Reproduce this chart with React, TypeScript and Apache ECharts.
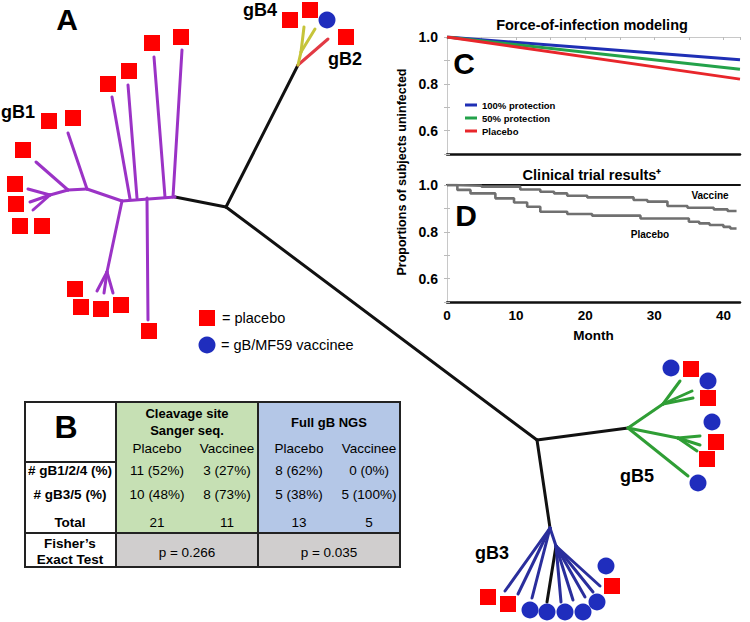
import React, { useEffect, useRef } from 'react';
import * as echarts from 'echarts';

const FONT = '"Liberation Sans", Arial, Helvetica, sans-serif';

// ---------- Panel C: force-of-infection model ----------
const monthsC = [0, 42.4];
const protection100 = [1.0, 0.903];
const protection50 = [1.0, 0.862];
const placeboModel = [1.0, 0.82];
const legendC = ['100% protection', '50% protection', 'Placebo'];
const colorsC = ['#1f2fb5', '#23a24a', '#e8262b'];

// ---------- Panel D: clinical trial (Kaplan-Meier) ----------
const vaccineMonths = [0, 1, 5, 10.6, 13.5, 15.5, 17.4, 20.3, 27, 29, 31.9, 34.8, 38.6, 40.6, 41.9];
const vaccineKM = [1.0, 0.997, 0.993, 0.981, 0.971, 0.964, 0.954, 0.947, 0.936, 0.929, 0.91, 0.903, 0.896, 0.889, 0.889];
const placeboMonths = [0, 1.5, 3.4, 7, 9.7, 11.6, 13.5, 17.4, 21, 28, 35, 36.5, 38, 40, 41, 41.9];
const placeboKM = [1.0, 0.979, 0.964, 0.943, 0.925, 0.907, 0.886, 0.876, 0.869, 0.857, 0.843, 0.836, 0.829, 0.821, 0.814, 0.814];

// ---------- Panel A: phylogenetic tree (node positions in figure units) ----------
type Edge = [number, number, number, number];
const backboneEdges: Edge[] = [
  [226, 207, 175, 197], [226, 207, 298, 65], [226, 207, 537, 440],
  [537, 440, 628, 428], [537, 440, 550, 528], [556, 546, 547, 602],
];
const gB1Edges: Edge[] = [
  [175, 197, 122, 201], [173, 197, 182, 50], [165, 197, 154, 57], [137, 198, 128, 85],
  [130, 199, 112, 97], [147, 198, 148, 320], [122, 201, 107, 272], [107, 272, 97, 291],
  [107, 272, 104, 293], [107, 272, 113, 293], [122, 201, 87, 189], [87, 189, 68, 133],
  [87, 189, 68, 190], [68, 190, 36, 162], [68, 190, 50, 195], [50, 195, 28, 189],
  [50, 195, 30, 202], [50, 195, 33, 210],
];
const gB2Edges: Edge[] = [[298, 65, 328, 39]];
const gB4Edges: Edge[] = [[298, 65, 301, 52], [301, 52, 304, 27], [301, 52, 315, 29]];
const gB5Edges: Edge[] = [
  [628, 428, 663, 404], [663, 404, 680, 381], [663, 404, 692, 391], [663, 404, 693, 398],
  [628, 428, 678, 438], [678, 438, 700, 436], [678, 438, 700, 445], [678, 438, 697, 451],
  [628, 428, 688, 476],
];
const gB3Edges: Edge[] = [
  [550, 528, 505, 591], [550, 528, 518, 594], [550, 528, 532, 598], [550, 528, 556, 546],
  [556, 546, 561, 602], [556, 546, 573, 600], [556, 546, 585, 597], [556, 546, 593, 592],
  [556, 546, 600, 586],
];
const cladeColors = ['#111111', '#9b33c6', '#e23a44', '#c6c43a', '#2f9e35', '#2a2e9c'];

const placeboTips: [number, number][] = [
  [152, 43], [181, 37], [129, 71], [108, 84], [49, 121], [73, 118], [23, 150], [15, 184],
  [16, 204], [20, 226], [42, 226], [75, 289], [81, 307], [101, 309], [121, 305], [149, 331],
  [290, 20], [310, 10], [346, 37],
  [691, 369], [708, 398], [716, 442], [707, 459],
  [488, 597], [508, 604], [612, 586],
];
const vaccineeTips: [number, number][] = [
  [327, 20],
  [671, 368], [708, 381], [712, 422], [698, 483],
  [530, 610], [547, 612], [565, 612], [583, 612], [597, 602], [606, 566],
];
const cladeLabels = ['gB1', 'gB4', 'gB2', 'gB5', 'gB3'];
const cladeLabelPos: [number, number][] = [[18, 112], [260, 10], [345, 59], [637, 476], [492, 553]];

// ---------- Panel B: table ----------
const groupHeads = ['Cleavage site\nSanger seq.', 'Full gB NGS'];
const subHeads = ['Placebo', 'Vaccinee'];
const rowLabels = ['# gB1/2/4 (%)', '# gB3/5 (%)', 'Total'];
const sangerValues = [['11 (52%)', '3 (27%)'], ['10 (48%)', '8 (73%)'], ['21', '11']];
const ngsValues = [['8 (62%)', '0 (0%)'], ['5 (38%)', '5 (100%)'], ['13', '5']];
const fisherLabel = 'Fisher\u2019s\nExact Test';
const fisherP = ['p = 0.266', 'p = 0.035'];

// layout constants
const TX = [25, 116, 258, 400];
const TY = { top: 402, head: 462, body: 533, bottom: 567 };
const rowCY = [470, 494, 522];
const subOffsets = [41, 111];

function txt(text: string, x: number, y: number, size: number, bold = true, extra: any = {}) {
  return {
    type: 'text', x, y, silent: true, z: 10,
    style: {
      text, fontSize: size, fontWeight: bold ? 'bold' : 'normal', fontFamily: FONT,
      fill: '#000', align: 'center', verticalAlign: 'middle', ...extra,
    },
  };
}

export default function App() {
  const ref = useRef<HTMLDivElement>(null);
  useEffect(() => {
    document.body.style.margin = '0';
    const chart = echarts.init(ref.current!, null, { renderer: 'svg' });

    const edgeData: number[][] = [];
    [backboneEdges, gB1Edges, gB2Edges, gB4Edges, gB5Edges, gB3Edges].forEach((list, ci) => {
      list.forEach((e) => edgeData.push([e[0], e[1], e[2], e[3], ci]));
    });

    const graphics: any[] = [];
    // panel letters
    graphics.push(txt('A', 67, 19, 30));
    graphics.push(txt('B', 66, 427, 32));
    graphics.push(txt('C', 464, 63, 30));
    graphics.push(txt('D', 466, 215, 30));
    // clade labels
    cladeLabels.forEach((l, i) => graphics.push(txt(l, cladeLabelPos[i][0], cladeLabelPos[i][1], 18)));
    // tree legend
    graphics.push({ type: 'rect', shape: { x: 199, y: 310, width: 16, height: 16 }, style: { fill: '#ff0000' }, z: 10 });
    graphics.push({ type: 'circle', shape: { cx: 207, cy: 345, r: 8.5 }, style: { fill: '#1f2dbd' }, z: 10 });
    graphics.push(txt('= placebo', 222, 318, 14.5, false, { align: 'left' }));
    graphics.push(txt('= gB/MF59 vaccinee', 221, 345, 14.5, false, { align: 'left' }));
    // chart titles and shared y axis name
    graphics.push(txt('Force-of-infection modeling', 592, 25, 14.5));
    graphics.push(txt('Clinical trial results\u207A', 592, 175, 14.5));
    graphics.push({ ...txt('Proportions of subjects uninfected', 402, 172, 12.5), rotation: Math.PI / 2 });
    graphics.push(txt('Vaccine', 710, 195, 10));
    graphics.push(txt('Placebo', 650, 234, 10));

    // table
    const colors = ['#c6e0b4', '#b4c7e7'];
    colors.forEach((c, g) => {
      graphics.push({ type: 'rect', shape: { x: TX[g + 1], y: TY.top, width: TX[g + 2] - TX[g + 1], height: TY.body - TY.top }, style: { fill: c }, z: 5 });
    });
    graphics.push({ type: 'rect', shape: { x: TX[1], y: TY.body, width: TX[3] - TX[1], height: TY.bottom - TY.body }, style: { fill: '#d0cece' }, z: 5 });
    const stroke = { stroke: '#222', lineWidth: 2 };
    graphics.push({ type: 'rect', shape: { x: TX[0], y: TY.top, width: TX[3] - TX[0], height: TY.bottom - TY.top }, style: { fill: 'none', ...stroke }, z: 6 });
    [TX[1], TX[2]].forEach((x) => graphics.push({ type: 'line', shape: { x1: x, y1: TY.top, x2: x, y2: TY.bottom }, style: stroke, z: 6 }));
    graphics.push({ type: 'line', shape: { x1: TX[0], y1: TY.head, x2: TX[1], y2: TY.head }, style: stroke, z: 6 });
    graphics.push({ type: 'line', shape: { x1: TX[0], y1: TY.body, x2: TX[3], y2: TY.body }, style: stroke, z: 6 });
    groupHeads.forEach((h, g) => {
      const cx = (TX[g + 1] + TX[g + 2]) / 2;
      graphics.push(txt(h, cx, g === 0 ? 421.5 : 422, 13, true, { lineHeight: 17 }));
      subHeads.forEach((s, k) => graphics.push(txt(s, TX[g + 1] + subOffsets[k], 448, 13.5, false)));
    });
    rowLabels.forEach((l, r) => {
      graphics.push(txt(l, 70, rowCY[r], 13.5));
      [sangerValues, ngsValues].forEach((vals, g) => {
        vals[r].forEach((v, k) => graphics.push(txt(v, TX[g + 1] + subOffsets[k], rowCY[r], 13.5, false)));
      });
    });
    graphics.push(txt(fisherLabel, 70, 551, 13.5, true, { lineHeight: 16 }));
    fisherP.forEach((p, g) => graphics.push(txt(p, (TX[g + 1] + TX[g + 2]) / 2, 552, 13.5, false)));

    const yLabelFmt = (v: number) => {
      const r = Math.round(v * 10);
      return r % 2 === 0 ? (r / 10).toFixed(1) : '';
    };
    const xMax = 42.4;
    const bottomAxis = (grid: number, labels: boolean) => ({
      type: 'value', gridIndex: grid, min: 0, max: xMax, interval: 10,
      axisLine: { show: true, lineStyle: { color: '#111', width: 2.5 } },
      axisTick: { show: false }, splitLine: { show: false },
      axisLabel: {
        show: labels, fontSize: 13.5, fontWeight: 'bold', fontFamily: FONT, color: '#000', margin: 6,
        showMaxLabel: false, showMinLabel: true,
      },
      ...(labels ? { name: 'Month', nameLocation: 'middle', nameGap: 26, nameTextStyle: { fontSize: 13.5, fontWeight: 'bold', fontFamily: FONT, color: '#000' } } : {}),
    });
    const topAxis = (grid: number, dark: boolean) => ({
      type: 'value', gridIndex: grid, position: 'top', min: 0, max: xMax, interval: 5,
      axisLine: { show: true, lineStyle: { color: dark ? '#111' : '#c8c8c8', width: dark ? 2 : 1 } },
      axisTick: { show: !dark, inside: true, length: 3, lineStyle: { color: '#bbb' } },
      axisLabel: { show: false }, splitLine: { show: false },
    });
    const leftAxis = (grid: number) => ({
      type: 'value', gridIndex: grid, min: 0.5, max: 1.0, interval: 0.1,
      axisLine: { show: false },
      axisTick: { show: true, inside: true, length: 3, lineStyle: { color: '#bbb' } },
      splitLine: { show: false },
      axisLabel: { formatter: yLabelFmt, fontSize: 14, fontWeight: 'bold', fontFamily: FONT, color: '#000', margin: 9, showMinLabel: true },
    });
    const rightAxis = (grid: number) => ({
      type: 'value', gridIndex: grid, position: 'right', min: 0.5, max: 1.0, interval: 0.1,
      axisLine: { show: true, lineStyle: { color: '#c8c8c8', width: 1 } },
      axisTick: { show: true, inside: true, length: 3, lineStyle: { color: '#bbb' } },
      splitLine: { show: false }, axisLabel: { show: false },
    });

    const lineSeries = (name: string, ys: number[], color: string) => ({
      name, type: 'line', xAxisIndex: 1, yAxisIndex: 1, showSymbol: false, silent: true,
      data: monthsC.map((m, i) => [m, ys[i]]),
      lineStyle: { color, width: 3 }, itemStyle: { color },
    });
    const kmSeries = (name: string, xs: number[], ys: number[]) => ({
      name, type: 'line', xAxisIndex: 3, yAxisIndex: 3, step: 'end', showSymbol: false, silent: true,
      data: xs.map((m, i) => [m, ys[i]]),
      lineStyle: { color: '#707070', width: 2.6 }, itemStyle: { color: '#707070' },
    });

    chart.setOption({
      animation: false,
      backgroundColor: '#fff',
      grid: [
        { left: 0, top: 0, width: 750, height: 622 },
        { left: 447, top: 37, width: 293, height: 117 },
        { left: 447, top: 185, width: 293, height: 117 },
      ],
      xAxis: [
        { type: 'value', gridIndex: 0, min: 0, max: 750, show: false },
        bottomAxis(1, false),
        topAxis(1, false),
        bottomAxis(2, true),
        topAxis(2, true),
      ],
      yAxis: [
        { type: 'value', gridIndex: 0, min: 0, max: 622, inverse: true, show: false },
        leftAxis(1), rightAxis(1), leftAxis(2), rightAxis(2),
      ],
      legend: {
        data: legendC, left: 465, top: 100, orient: 'vertical', icon: 'rect',
        itemWidth: 12, itemHeight: 3, itemGap: 3, padding: 0, selectedMode: false,
        textStyle: { fontSize: 9.5, fontWeight: 'bold', fontFamily: FONT, color: '#000' },
      },
      series: [
        {
          type: 'custom', xAxisIndex: 0, yAxisIndex: 0, silent: true, z: 2,
          data: edgeData,
          encode: { x: [0, 2], y: [1, 3] },
          renderItem: (params: any, api: any) => {
            const p1 = api.coord([api.value(0), api.value(1)]);
            const p2 = api.coord([api.value(2), api.value(3)]);
            return {
              type: 'line',
              shape: { x1: p1[0], y1: p1[1], x2: p2[0], y2: p2[1] },
              style: { stroke: cladeColors[api.value(4)], lineWidth: 3, lineCap: 'round' },
            };
          },
        },
        {
          type: 'scatter', xAxisIndex: 0, yAxisIndex: 0, silent: true, z: 3,
          symbol: 'rect', symbolSize: 16, itemStyle: { color: '#ff0000', opacity: 1 },
          data: placeboTips,
        },
        {
          type: 'scatter', xAxisIndex: 0, yAxisIndex: 0, silent: true, z: 3,
          symbol: 'circle', symbolSize: 17, itemStyle: { color: '#1f2dbd', opacity: 1 },
          data: vaccineeTips,
        },
        lineSeries(legendC[0], protection100, colorsC[0]),
        lineSeries(legendC[1], protection50, colorsC[1]),
        lineSeries(legendC[2], placeboModel, colorsC[2]),
        kmSeries('Vaccine', vaccineMonths, vaccineKM),
        kmSeries('Placebo KM', placeboMonths, placeboKM),
      ],
      graphic: graphics,
    });
    return () => chart.dispose();
  }, []);
  return <div ref={ref} style={{ width: 750, height: 622 }} />;
}
